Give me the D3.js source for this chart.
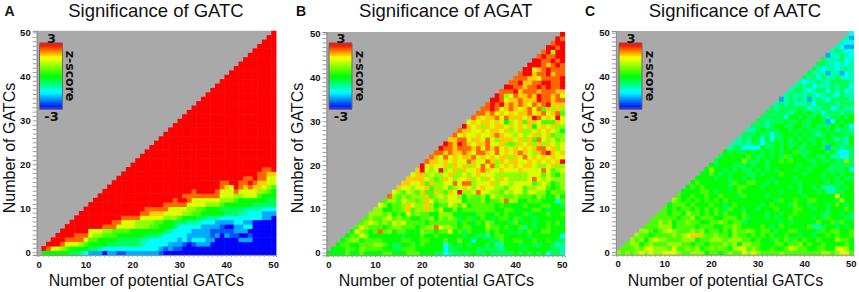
<!DOCTYPE html>
<html>
<head>
<meta charset="utf-8">
<title>Significance of GATC, AGAT, AATC</title>
<script src="https://cdn.jsdelivr.net/npm/d3@7/dist/d3.min.js"></script>
<style>
  html, body { margin: 0; padding: 0; background: #fff; }
  svg { display: block; font-family: "Liberation Sans", Arial, sans-serif; }
  .tick text { font-family: "Liberation Sans", Arial, sans-serif; font-weight: bold; font-size: 9.5px; fill: #111; }
  .tick line { stroke: #9a9a9a; }
  .domain { stroke: #8a8a8a; }
</style>
</head>
<body>
<svg id="chart" width="859" height="292"></svg>
<script>
// z-score steps, one character per step
const levelCodes = "0123456789abc";
const zLevels = [-3, -2.5, -2, -1.5, -1, -0.5, 0, 0.5, 1, 1.5, 2, 2.5, 3];

const tickLabels = [0, 10, 20, 30, 40, 50];
const gridSteps = d3.range(0, 51);

// each row is one "Number of GATCs" value, first row = 0. A row starts at x = y,
// spaces only split it at multiples of ten. "." means no value.
const gatcRows = [
  ".666666554 3222022112 2222221000 0000000000 0000000000 0",
  "cb9987666 6554333333 3333332121 1000000000 0000000000 0",
  "ccc b9998 7666655555 5543333322 2101222000 0000000000 0",
  "cccbbbb 9776666555 5544333333 2323332200 0002220000 0",
  "ccccbb b988777666 6665554333 3322222120 2110010000 0",
  "ccccc c999887777 6666666543 3332222111 1122200000 0",
  "cccc ccccbbb999 9888776665 3333322221 0022330000 0",
  "ccc ccccccbb99 9888877665 5544433322 2233220000 0",
  "cc ccccccccbb bb99999888 7666554443 3333333322 0",
  "c cccccccccc ccbbaaa999 9887766666 5554433322 2",
  "cccccccccc cccbbbbb99 9988776665 5555444433 3",
  "ccccccccc cccccccbbb bb99998887 6666665555 5",
  "cccccccc cccccccccb ccb9999998 8876666665 5",
  "ccccccc cccccccccc cbbbbbbbb9 9988999766 6",
  "cccccc cccccccccc cccbccccb9 99b9999887 6",
  "ccccc cccccccccc cccccccccb a9cbabaa98 7",
  "cccc cccccccccc cccccccccb bccbbcbaa9 9",
  "ccc cccccccccc cccccccccc ccccbbcbb9 9",
  "cc cccccccccc cccccccccc cccccccbba a",
  "c cccccccccc cccccccccc ccccccccbb c",
  "cccccccccc cccccccccc cccccccccc c",
  "ccccccccc cccccccccc cccccccccc c",
  "cccccccc cccccccccc cccccccccc c",
  "ccccccc cccccccccc cccccccccc c",
  "cccccc cccccccccc cccccccccc c",
  "ccccc cccccccccc cccccccccc c",
  "cccc cccccccccc cccccccccc c",
  "ccc cccccccccc cccccccccc c",
  "cc cccccccccc cccccccccc c",
  "c cccccccccc cccccccccc c",
  "cccccccccc cccccccccc c",
  "ccccccccc cccccccccc c",
  "cccccccc cccccccccc c",
  "ccccccc cccccccccc c",
  "cccccc cccccccccc c",
  "ccccc cccccccccc c",
  "cccc cccccccccc c",
  "ccc cccccccccc c",
  "cc cccccccccc c",
  "c cccccccccc c",
  "cccccccccc c",
  "ccccccccc c",
  "cccccccc c",
  "ccccccc c",
  "cccccc c",
  "ccccc c",
  "cccc c",
  "ccc c",
  "cc c",
  "c c",
  "c"
];

const agatRows = [
  "6666766766 6677666777 6665534555 5655655555 6565656355 4",
  "666776877 7766557776 6666635566 6655555466 6656666655 4",
  "67766777 8876556676 7666635656 5666564466 6566556654 4",
  "6788677 7766667766 7766676686 6366655766 7766766765 5",
  "677986 6666665666 7667666665 6655467766 6665666666 3",
  "69876 7b78677666 8776779675 7666767665 6567667766 6",
  "7987 7767887776 788b988767 7666877676 6746566766 6",
  "789 8787989777 7677777767 6676876665 7666566767 6",
  "78 7789787766 7786878756 7567656776 7566566666 6",
  "8 8878676978 7766888666 6677667676 6675666766 7",
  "8866778a78 8a87966867 7777776677 6666776566 6",
  "986778a98 8a86779879 6777776766 6676667766 5",
  "78879887 8a97889996 7778677 8b8 8667776663 7",
  "b878788 8a78989986 8778698877 8777687668 6",
  "987987 a77a87a9c8 89b9988798 9979988687 7",
  "a9989 9a7889789a 989a998879 9978899767 8",
  "aa99 a7a8899b9b b8999a8998 9999789867 8",
  "aaa a9878a9899 a898a98a98 8889b98988 8",
  "9a a89889a889 89a9998888 8889997976 8",
  "a c989c89a8a 99aba99a99 9a9999b978 9",
  "c9a99a8a9a 8a9b9b89a9 a9aa9889a8 8",
  "baa9a9a99 ba99ba8a9a a99a9a9a9a c",
  "ba9b9a9a ab9a9a9aa8 a9b9a9a9a9 9",
  "bbabaab a9bba9b9a9 aba98abca9 a",
  "cbbabb bab9bab9a9 a9a9abb9a8 9",
  "cbacb a9aab99a87 8a9a8a8a98 9",
  "aabb 9aa9b98aaa 9a8a7b9897 8",
  "b9a 99a99aba99 8989a89a78 8",
  "ba a99a9aa9a8 9a889a9a98 6",
  "c a9a8a9aa9a 9a9a69a9a8 8",
  "9a9aa9a968 9a7aa9777a 9",
  "ba9aab9ba aa9acb9a9c 9",
  "bbab9a9a 9aab9ab9ab 7",
  "bbcb9ab a9ab9b7a8a 8",
  "bcbcab aba9babcaa a",
  "ccb9a abaaacbbab b",
  "cb89 baabacbbab 9",
  "bbb cabbbabbba a",
  "cc bbabbcbcbb c",
  "b bcaabbccbb c",
  "bbbaa9bbbb c",
  "bccabbcab b",
  "cc9abcbb b",
  "cccbabc b",
  "ccbbcb c",
  "bcbbc c",
  "bc8c c",
  "ccb c",
  "bc c",
  "c b",
  "c"
];

const aatcRows = [
  "8787898988 9998778886 7767877989 8777787777 7777887899 7",
  "777879988 8797787867 8787689978 7667667987 7667766998 6",
  "78867877 7888776776 7778786887 7666776778 6766766667 6",
  "8786898 8777888677 8887888776 7665767576 7667666877 6",
  "877677 778789aa87 7877687767 6767667665 6656676766 7",
  "88767 8987778786 7767687787 6776566776 6665767766 7",
  "7778 8867777677 7667787666 6765676666 6744566565 6",
  "778 7867787766 7787677566 6666656566 6667667576 6",
  "77 7776778677 7667776756 6656566766 6656576665 5",
  "7 7677687767 6767666766 6656656676 6666556656 5",
  "7676776767 6765766566 5666766677 6656656667 6",
  "677767666 7665676666 6567666576 6566656765 6",
  "87676767 6767666666 6666576676 6776666586 6",
  "7667667 6676665766 6656666666 5666666966 6",
  "666677 6566667666 6666656665 6665644556 6",
  "67676 6666567766 6566666565 6656444565 6",
  "6766 6666576677 6656566665 6666656556 6",
  "666 6566566565 6665666656 6666566565 5",
  "66 7656566655 6566676666 5666565656 6",
  "6 8665656556 5656566656 6566655556 3",
  "6566655565 6656666665 6656665555 5",
  "566666855 5656676766 6556556558 5",
  "56666676 5565657566 5665564433 5",
  "6565565 6565656675 5566656433 5",
  "455333 3655656565 5666525545 5",
  "44545 5355656556 5656556554 6",
  "4546 5363556565 6556565454 6",
  "555 6553556656 5654565655 5",
  "44 5655566565 6555656455 4",
  "5 5545665566 5565556565 3",
  "5545556556 5566523656 6",
  "555553665 6556545565 6",
  "55555456 5655355545 5",
  "5455555 5344553454 4",
  "454544 4535555455 5",
  "24545 4245435555 4",
  "4544 4543454354 4",
  "455 4345535453 4",
  "45 4534445455 3",
  "4 3445445555 4",
  "5453544543 4",
  "544424423 4",
  "54344345 4",
  "5544343 4",
  "544453 4",
  "24354 3",
  "4543 3",
  "432 2",
  "43 3",
  "4 2",
  "3"
];

const colorStops = [-3, -1.5, 0, 1.75, 3];
const colorRange = ["#0000ff", "#00ffff", "#00ff00", "#ffff00", "#ff0000"];

const color = d3.scaleLinear().domain(colorStops).range(colorRange);
const svg = d3.select("#chart");

// cell list for the panel, one entry per coloured cell
function buildCells(rows) {
    const cells = [];
    rows.forEach((row, y) => {
        row.replace(/ /g, "").split("").forEach((code, i) => {
            if (code === ".") return;
            cells.push({ x: y + i, y: y, z: zLevels[levelCodes.indexOf(code)] });
        });
    });
    return cells;
}

function drawPanel(cfg) {
    const xScale = d3.scaleBand().domain(gridSteps).range([cfg.left, cfg.right]);
    const yScale = d3.scaleBand().domain(gridSteps).range([cfg.bottom, cfg.top]);
    const g = svg.append("g");

    g.append("rect")
        .attr("x", cfg.left)
        .attr("y", cfg.top)
        .attr("width", cfg.right - cfg.left)
        .attr("height", cfg.bottom - cfg.top)
        .attr("fill", "#a9a9a9");

    g.append("g")
        .attr("filter", "url(#soft)")
        .selectAll("rect")
        .data(buildCells(cfg.rows))
        .enter()
        .append("rect")
        .attr("x", d => xScale(d.x))
        .attr("y", d => yScale(d.y))
        .attr("width", xScale.bandwidth() + 0.4)
        .attr("height", yScale.bandwidth() + 0.4)
        .attr("fill", d => color(d.z));

    const fmt = d => tickLabels.includes(d) ? d : "";

    g.append("g")
        .attr("transform", "translate(0," + cfg.bottom + ")")
        .call(d3.axisBottom(xScale).tickValues(gridSteps).tickFormat(fmt).tickSize(2).tickPadding(4));

    g.append("g")
        .attr("transform", "translate(" + cfg.left + ",0)")
        .call(d3.axisLeft(yScale).tickValues(gridSteps).tickFormat(fmt).tickSize(4).tickPadding(2));

    // colour bar
    const barY = d3.scaleLinear().domain([-3, 3]).range([108, 44]);
    const bands = d3.range(-3, 3.001, 6 / 30);
    g.append("g")
        .selectAll("rect")
        .data(bands)
        .enter()
        .append("rect")
        .attr("x", cfg.barLeft)
        .attr("y", d => barY(d) - 64 / 31 / 2 - 0.4)
        .attr("width", 23)
        .attr("height", 64 / 31 + 0.8)
        .attr("fill", d => color(d));
    g.append("rect")
        .attr("x", cfg.barLeft)
        .attr("y", 44)
        .attr("width", 23)
        .attr("height", 64)
        .attr("fill", "none")
        .attr("stroke", "#6b6b6b");

    const barText = (txt, x, y) => g.append("text")
        .attr("x", x)
        .attr("y", y)
        .attr("text-anchor", "middle")
        .attr("font-weight", "bold")
        .attr("font-family", "'DejaVu Sans', sans-serif")
        .attr("font-size", 13)
        .attr("fill", "#111")
        .text(txt);
    barText("3", cfg.barLeft + 12, 42.5);
    barText("-3", cfg.barLeft + 12, 120.5);

    g.append("text")
        .attr("transform", "translate(" + (cfg.barLeft + 26.5) + ",76) rotate(90)")
        .attr("text-anchor", "middle")
        .attr("font-weight", "bold")
        .attr("font-family", "'DejaVu Sans', sans-serif")
        .attr("font-size", 12.5)
        .attr("fill", "#111")
        .text("z-score");

    // titles and labels
    g.append("text")
        .attr("x", cfg.titleX)
        .attr("y", 17)
        .attr("text-anchor", "middle")
        .attr("font-size", 18.5)
        .attr("fill", "#111")
        .text(cfg.title);

    g.append("text")
        .attr("x", cfg.letterX)
        .attr("y", 16)
        .attr("text-anchor", "middle")
        .attr("font-weight", "bold")
        .attr("font-size", 14)
        .attr("fill", "#111")
        .text(cfg.letter);

    g.append("text")
        .attr("x", cfg.xLabelX)
        .attr("y", 286)
        .attr("text-anchor", "middle")
        .attr("font-size", 16)
        .attr("fill", "#111")
        .text("Number of potential GATCs");

    g.append("text")
        .attr("transform", "translate(" + cfg.yLabelX + ",148) rotate(-90)")
        .attr("text-anchor", "middle")
        .attr("font-size", 16)
        .attr("fill", "#111")
        .text("Number of GATCs");
}

const defs = svg.append("defs");
defs.append("filter")
    .attr("id", "soft")
    .append("feGaussianBlur")
    .attr("stdDeviation", 0.35);

drawPanel({ rows: gatcRows, title: "Significance of GATC", letter: "A",
    left: 36.7, right: 276, top: 30.8, bottom: 254.9, barLeft: 39.5,
    titleX: 156, letterX: 9.5, xLabelX: 146.3, yLabelX: 15 });
drawPanel({ rows: agatRows, title: "Significance of AGAT", letter: "B",
    left: 326.5, right: 564.7, top: 32, bottom: 255.3, barLeft: 329,
    titleX: 445.8, letterX: 301, xLabelX: 436.3, yLabelX: 303 });
drawPanel({ rows: aatcRows, title: "Significance of AATC", letter: "C",
    left: 615.9, right: 853.6, top: 31, bottom: 254.7, barLeft: 619,
    titleX: 735, letterX: 590, xLabelX: 725.5, yLabelX: 594 });
</script>
</body>
</html>
